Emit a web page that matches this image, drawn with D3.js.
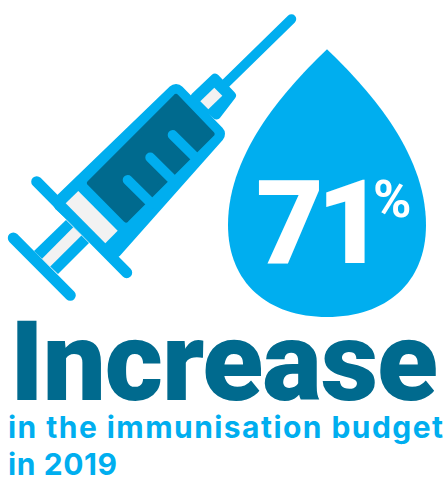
<!DOCTYPE html>
<html><head><meta charset="utf-8">
<script src="https://cdn.jsdelivr.net/npm/d3@7"></script>
<style>html,body{margin:0;padding:0;background:#fff}svg{display:block}</style>
</head><body><div id="c"></div>
<script>
const stats=[71];
const unit=["%"];
const headline=["Increase"];
const sublines=["in the immunisation budget","in 2019"];
const BLUE="#00AEEF",DARK="#006A8E",LIGHT="#F2F2F2";
const svg=d3.select("#c").append("svg").attr("width",446).attr("height",477);
const line=d3.line();
const poly=p=>line(p)+"Z";
const g=svg.append("g");
const stroke=(a,b,w)=>g.append("line").attr("x1",a[0]).attr("y1",a[1]).attr("x2",b[0]).attr("y2",b[1]).attr("stroke",BLUE).attr("stroke-width",w).attr("stroke-linecap","round");
stroke([291.5,19],[224,85],9.5);
stroke([36.7,181.7],[126.7,272.7],11);
stroke([13.3,238],[70.3,295.3],11);
// rod
g.append("path").attr("d",poly([[66,220],[34,251],[58,274],[89,243]])).attr("fill",BLUE);
// hub
g.append("path").attr("d",poly([[215,78],[195,97],[216.5,115],[231.5,95.5]])).attr("fill",BLUE).attr("stroke",BLUE).attr("stroke-width",9).attr("stroke-linejoin","round");
// barrel
g.append("path").attr("d",poly([[176,93],[62,203],[113,250],[216,134]])).attr("fill",BLUE).attr("stroke",BLUE).attr("stroke-width",18).attr("stroke-linejoin","round");
g.append("path").attr("d",poly([[176,97],[90,183],[126,219.5],[211.5,134]])).attr("fill",DARK).attr("stroke",DARK).attr("stroke-width",6).attr("stroke-linejoin","round");
[[[172.7,135],[197,159]],[[150.3,157.5],[174.5,181.5]],[[127.7,180],[152,204]]].forEach(s=>stroke(s[0],s[1],10));
// light parts
[[[78.3,191],[117.7,230.7],[105.3,243.3],[65.7,203.3]],
 [[214.3,87.7],[222.3,95.7],[208.3,109.3],[200.3,101.3]],
 [[73.3,227.3],[81.7,235.3],[50,266.7],[42,258.7]]].forEach(p=>g.append("path").attr("d",poly(p)).attr("fill",LIGHT));
// drop
g.append("path").attr("d","M327,49.3C290,85 228,150 228,225C228,283 268,317 327,317C386,317 426,283 426,225C426,150 364,85 327,49.3Z").attr("fill",BLUE);
const T=(s,x,y,size,weight,fill,font,ls)=>svg.append("text").attr("x",x).attr("y",y).attr("font-size",size).attr("font-weight",weight).attr("fill",fill).attr("font-family",font).attr("letter-spacing",ls||0).text(s);
T(String(stats[0]),256,262.7,117,900,"#fff","Roboto",-7);
T(unit[0],373,217,52,700,"#fff","Roboto");
T(headline[0],10,400,112,900,DARK,"Roboto").attr("textLength",428).attr("lengthAdjust","spacing");
T(sublines[0],8,438,30,700,BLUE,"Inter",1.45);
T(sublines[1],8,475,30,700,BLUE,"Inter",0.6);
</script></body></html>
